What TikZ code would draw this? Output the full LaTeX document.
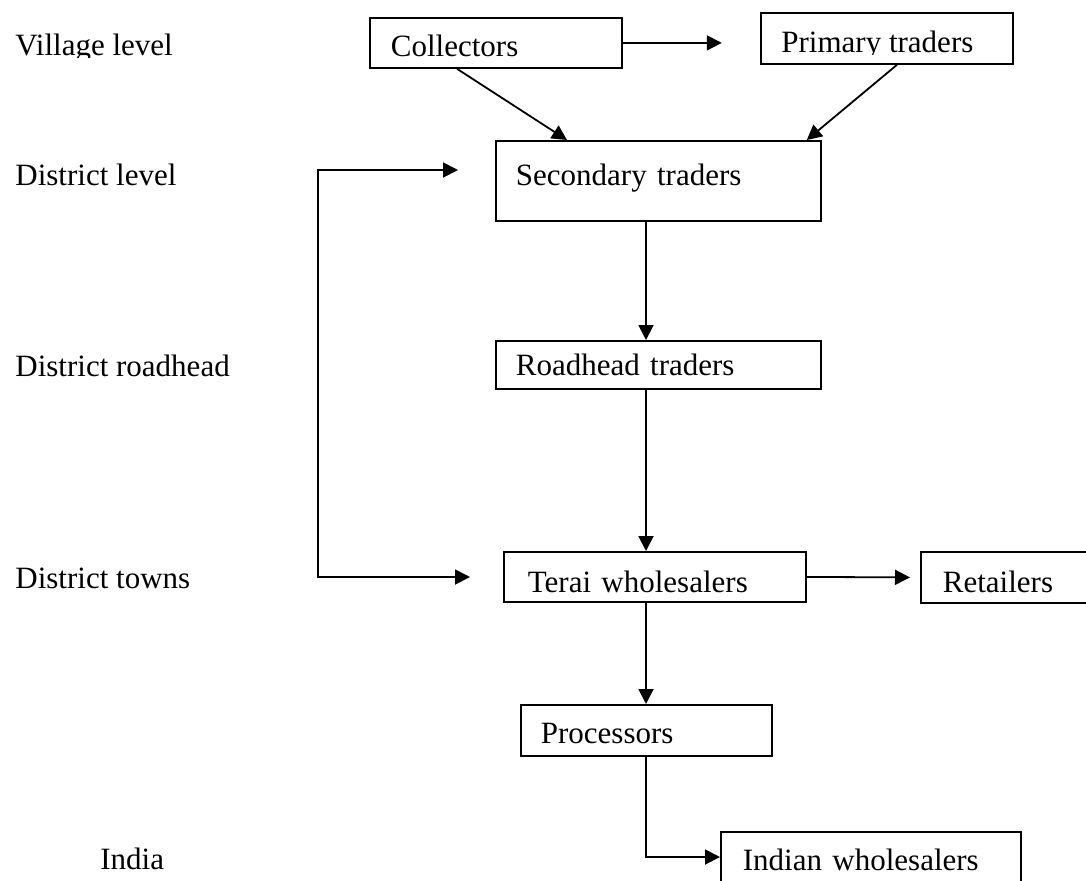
\documentclass[tikz,border=0pt]{standalone}
\usepackage{fontspec}
\setmainfont{Liberation Serif}
\usetikzlibrary{calc,arrows.meta}
\tikzset{
  box/.style={draw, line width=0.9pt, anchor=north west, inner ysep=0pt, align=left},
  lbl/.style={anchor=base west, inner sep=0pt},
  arr/.style={line width=0.9pt, -{Triangle[length=7.5pt,width=7.5pt]}},
  arrboth/.style={line width=0.9pt, {Triangle[length=7.5pt,width=7.5pt]}-{Triangle[length=7.5pt,width=7.5pt]}},
}
\begin{document}
\begin{tikzpicture}[x=0.5pt,y=-0.5pt,font=\fontsize{15.5}{18}\selectfont]
\useasboundingbox (0,0) rectangle (1086,880);
% level labels
\begin{scope}
  \clip (0,0) rectangle (300,57);
  \node[lbl] (lvillage) at (15,55) {Village level};
\end{scope}
\node[lbl] (ldistrict) at (15,185) {District level};
\node[lbl] (lroad) at (15,376) {District roadhead};
\node[lbl] (ltowns) at (15,588) {District towns};
\node[lbl] (lindia) at (100,869) {India};
% boxes
\node[box, inner xsep=10.5pt, text width=105pt, text height=19.5pt, text depth=5.5pt] (coll) at (369,17) {Collectors};
\node[box, inner xsep=10.5pt, text width=105pt, text height=20pt, text depth=5.5pt] (prim) at (760,12) {};
\begin{scope}
  \clip (760,12) rectangle (1012,54);
  \node[lbl] (primtext) at (781,52) {Primary traders};
\end{scope}
\node[box, inner xsep=10pt, text width=142.5pt, text height=22.5pt, text depth=17.5pt] (sec) at (495,140) {Secondary traders};
\node[box, inner xsep=10pt, text width=142.5pt, text height=17.5pt, text depth=6.5pt] (road) at (495,340) {Roadhead traders};
\node[box, inner xsep=12pt, text width=127pt, text height=20.5pt, text depth=4.5pt] (terai) at (503,551) {Terai wholesalers};
\node[box, inner xsep=11pt, text width=64pt, text height=20.5pt, text depth=5pt] (retail) at (920,551) {Retailers};
\node[box, inner xsep=10pt, text width=105.5pt, text height=19.5pt, text depth=6pt] (proc) at (520,704) {Processors};
\node[box, inner xsep=11pt, text width=128pt, text height=19.5pt, text depth=12.5pt] (ind) at (720,831) {Indian wholesalers};
% connectors
\draw[arr] (coll.east) -- ($(coll.east)+(99,0)$);
\draw[arr] ($(coll.south west)+(88,0)$) -- ($(sec.north west)+(72,0)$);
\draw[arr] ($(prim.south west)+(137,0)$) -- ($(sec.north east)+(-15,0)$);
\coordinate (lt) at (458,170);
\coordinate (lb) at (470,577);
\draw[arrboth] (lt) -| ($(lb)+(-152,0)$) -- (lb);
\draw[arr] ($(sec.south west)+(151,0)$) -- ($(road.north west)+(151,0)$);
\draw[arr] ($(road.south west)+(151,0)$) -- ($(terai.north west)+(143,0)$);
\draw[arr] (terai.east) -- ($(retail.west)+(-10,0)$);
\draw[arr] ($(terai.south west)+(143,0)$) -- ($(proc.north west)+(126,0)$);
\draw[arr] ($(proc.south west)+(126,0)$) |- ($(ind.north west)+(0,26)$);
\end{tikzpicture}
\end{document}
